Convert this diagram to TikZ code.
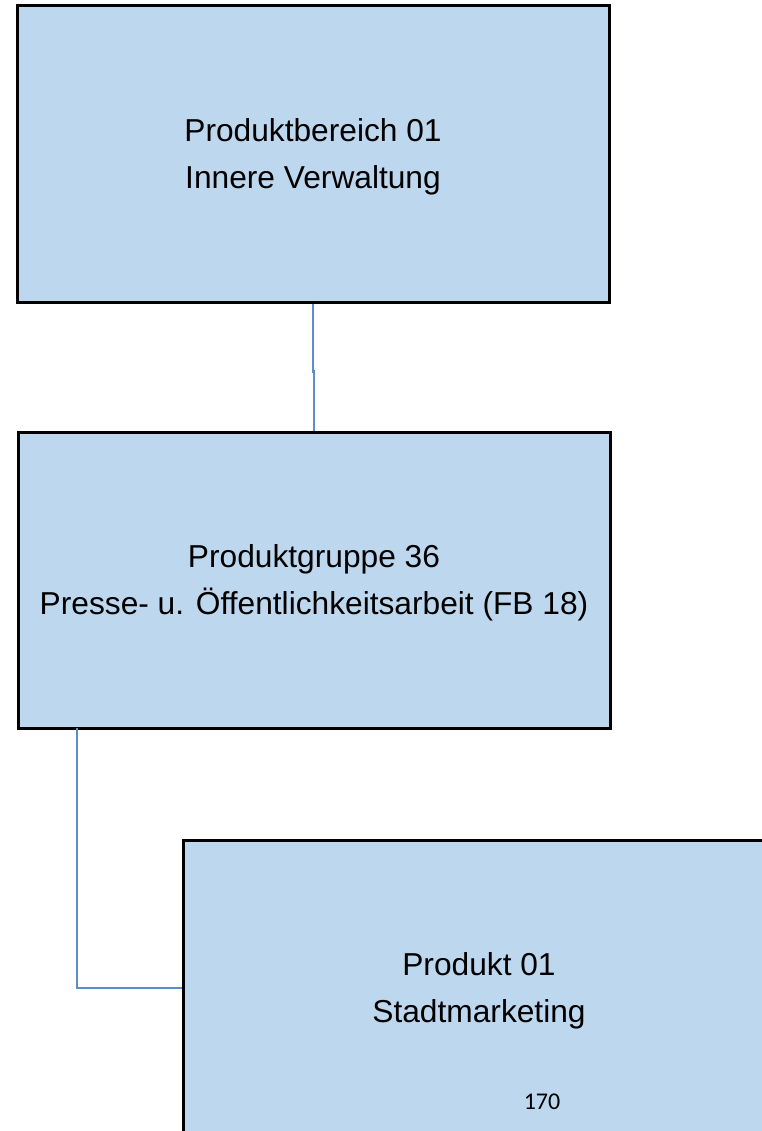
\documentclass[tikz,border=0pt]{standalone}
\usepackage{fontspec}
\setmainfont{Liberation Sans}
\newfontfamily\pagefont{Carlito}
\definecolor{boxfill}{HTML}{BDD7EE}
\definecolor{connblue}{HTML}{5B8EC9}
\begin{document}
\begin{tikzpicture}[x=1pt,y=-1pt,
  box/.style={draw=black, line width=3pt, fill=boxfill, rectangle,
    minimum width=592pt, minimum height=296pt, inner sep=0pt},
  boxtext/.style={align=center, inner sep=0pt, font=\fontsize{31.7}{47}\selectfont},
  conn/.style={draw=connblue, line width=2.2pt}]
\useasboundingbox (0,0) rectangle (762,1131);
\clip (0,0) rectangle (762,1131);
\node[box] (b1) at (313,154) {};
\node[box] (b2) at (314,580) {};
\node[box] (b3) at (479,988) {};
\node[boxtext] (t1) at ([yshift=-2.5pt]b1.center) {Produktbereich 01\\Innere Verwaltung};
\node[boxtext] (t2) at ([yshift=-2.5pt]b2.center) {Produktgruppe 36\\Presse- u. Öffentlichkeitsarbeit (FB 18)};
\node[boxtext] (t3) at ([yshift=-2.5pt]b3.center) {Produkt 01\\Stadtmarketing};
\node[font=\pagefont\fontsize{24}{28}\selectfont, inner sep=0pt] (pg) at (542,1102) {170};
\coordinate (c2) at (77,728);
\draw[conn] (b1.south) -- ++(0,68) -| (b2.north);
\draw[conn] (c2) |- (b3.west);
\end{tikzpicture}
\end{document}
